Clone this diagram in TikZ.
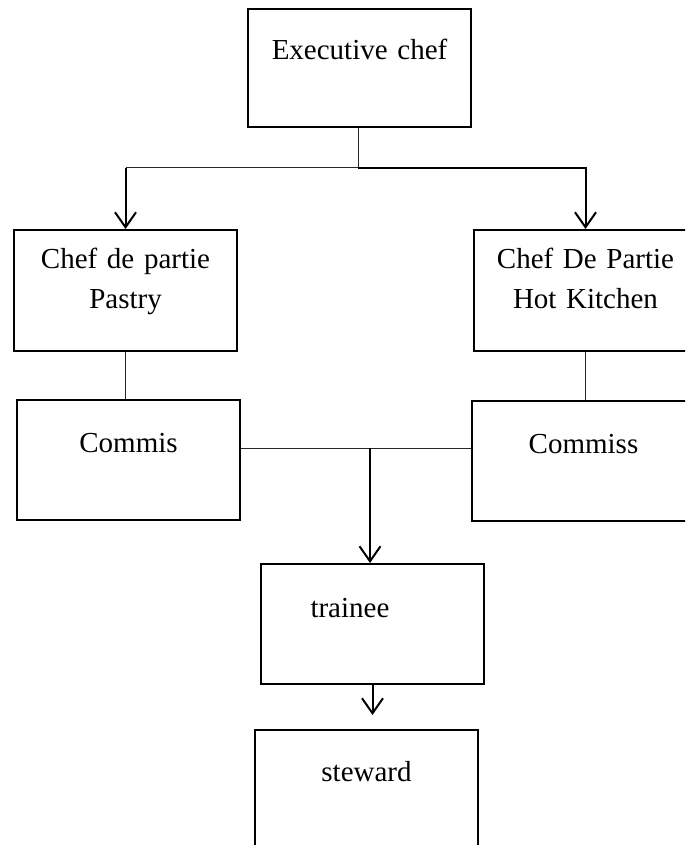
\documentclass[tikz,border=0pt]{standalone}
\usepackage{fontspec}
\setmainfont{Liberation Serif}
\usetikzlibrary{arrows.meta, positioning}

\begin{document}
\begin{tikzpicture}[
        x=1pt, y=-1pt,
        box/.style={rectangle, draw=black, line width=2pt, inner sep=0pt, text width=223pt, align=center, text height=52pt, text depth=68pt, font=\fontsize{29}{40}\selectfont},
        twoline/.style={box, text height=38pt, text depth=83pt},
        link/.style={line width=1pt, draw=black!85},
        arrow/.style={-{Straight Barb[length=15pt, width=21pt, line width=2pt]}, line width=2pt, draw=black}
    ]
    \useasboundingbox (0,0) rectangle (685,845);
    \clip (0,0) rectangle (685,845);
    % Nodes
    \node (exec) [box, anchor=north west, text height=51pt, text depth=67pt] at (247,8) {Executive chef};
    \node (pastry) [twoline, anchor=north west] at (13,229) {Chef de partie\\Pastry};
    \node (hot) [twoline, anchor=north west] at (473,229) {Chef De Partie\\Hot Kitchen};
    \node (commis) [box, below=47pt of pastry, xshift=3pt] {Commis};
    \node (commiss) [box, below=48pt of hot, xshift=-2pt] {Commiss};
    \node (trainee) [box, anchor=north west, text width=124pt, inner xsep=49.5pt, align=left, text height=53pt, text depth=67pt] at (260,563) {trainee};
    \node (steward) [box, below=44pt of trainee, xshift=-6pt, text height=51pt, text depth=75pt] {steward};
    \coordinate (split) at (358,168);
    \coordinate (join) at (370,448);

    % Arrows
    \draw [link] (exec.south -| split) -- (split);
    \draw [link] (split) -- (split -| pastry.north);
    \draw [arrow] (split -| pastry.north) -- (pastry.north);
    \draw [arrow] (split) -| (hot.north);
    \draw [link] (pastry.south) -- (pastry.south |- commis.north);
    \draw [link] (hot.south) -- (hot.south |- commiss.north);
    \draw [link] (commis.east |- join) -- (commiss.west |- join);
    \draw [arrow] (join) -- (join |- trainee.north);
    \draw [arrow, shorten >=14pt] (trainee.south) -- (trainee.south |- steward.north);
\end{tikzpicture}
\end{document}
